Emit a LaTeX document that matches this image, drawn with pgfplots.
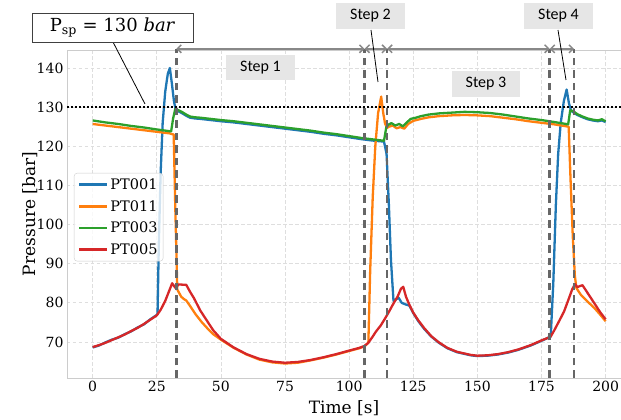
\documentclass[border=0pt]{standalone}
\usepackage{fontspec}
\setmainfont{DejaVu Serif}
\newfontfamily\stepfont{Carlito}
\usepackage{pgfplots}
\usepackage{pgfplotstable}
\pgfplotsset{compat=1.18}
\usetikzlibrary{arrows.meta}
\definecolor{tabblue}{HTML}{1F77B4}
\definecolor{taborange}{HTML}{FF7F0E}
\definecolor{tabgreen}{HTML}{2CA02C}
\definecolor{tabred}{HTML}{D62728}
\definecolor{stepgray}{HTML}{E6E6E6}
\definecolor{dashgray}{HTML}{666666}
\definecolor{arrgray}{HTML}{888888}

\pgfplotstableread{
t v
0 68.7
2.5 69.2
5 69.8
7.5 70.5
10 71.2
12.5 71.9
15 72.8
17.5 73.6
20 74.6
22.5 75.7
25 76.8
26.5 78.2
28.3 80.5
29.5 82.5
31 85.0
32.3 83.8
33.5 84.7
36.5 84.6
38 82.8
39.5 81.2
42 78.0
44.7 75.3
47 73.0
50 70.8
55 68.6
60 66.9
65 65.7
70 65.0
75 64.7
80 64.9
85 65.4
90 66.1
95 66.9
100 67.8
104 68.5
106 69.0
107.5 69.8
109 71.2
110.5 72.7
112.3 74.2
114 76.0
115.6 77.8
117 79.5
118.9 81.6
120.2 83.6
121.1 84.1
122.2 81.5
123.5 79.5
125 77.5
127 75.5
129.2 73.6
132 71.5
135 69.9
138.3 68.5
142 67.5
147.4 66.7
150 66.5
154 66.6
158 66.9
162 67.4
166 68.1
170.8 69.2
175 70.4
178.5 71.3
180 73.0
182 75.5
183.8 77.8
185.5 80.8
187 83.5
188.1 84.8
189 84.0
190 84.3
191 84.5
192.5 83.0
194.2 81.3
196 79.5
198 77.5
200 75.8
}\redtab

\pgfplotstableread{
t v
0 125.7
5 125.3
10 124.9
15 124.5
20 124.1
25 123.7
30 123.3
31.6 123.0
32.2 105
33 83.4
34.5 81.6
35.5 81.0
36.5 80.6
38 79.2
40 77.2
42.5 75.1
45 73.3
47 72.0
50 70.6
55 68.5
60 66.8
65 65.5
70 64.8
75 64.5
80 64.7
85 65.3
90 66.0
95 66.8
100 67.7
104 68.4
106 68.9
107.5 69.8
108.2 88
109.2 107
110.2 120
111.3 128.5
112.5 132.7
113.3 128.5
114 125.8
114.8 124.7
115.5 125.0
117 125.3
118.5 124.6
120 124.9
121.5 124.5
123 125.7
125 126.5
128 127.0
131 127.4
135 127.7
140 127.9
145 128.0
150 127.9
155 127.7
160 127.3
165 126.9
170 126.4
175 126.0
180 125.6
185.6 125.0
186.3 112
187.2 97
188 87
188.6 83.8
190.4 82.0
192.5 80.6
195.6 78.7
198 76.9
200 75.3
}\orangetab

\pgfplotstableread{
t v
0 126.6
5 126.1
10 125.7
15 125.2
20 124.8
25 124.3
30.6 123.8
31.4 127.2
32.2 129.5
33.5 129.2
35 128.7
36.5 128.1
38 127.6
40 127.4
42 127.3
46 127.0
50 126.7
55 126.4
60 126.0
65 125.6
70 125.2
75 124.8
80 124.4
85 124.0
90 123.5
95 123.1
100 122.6
105 122.1
110 121.7
113.6 121.4
114.5 124.9
115.5 125.6
116.5 125.9
118 125.3
119.5 125.7
121 125.1
122.5 126.1
124 127.0
126 127.3
128 127.7
131 128.1
135 128.4
140 128.6
145 128.8
150 128.7
155 128.5
160 128.1
165 127.6
170 127.1
175 126.7
180 126.2
185.4 125.6
186.2 129.2
187.5 128.9
189 128.2
191 127.6
193 127.1
195 126.8
197 126.6
198.5 126.9
200 126.4
}\greentab

\pgfplotstableread{
t v
0 68.6
2.5 69.1
5 69.9
7.5 70.6
10 71.1
12.5 72.0
15 72.7
17.5 73.7
20 74.5
22.5 75.8
25 76.9
25.3 77.2
25.8 95
26.5 113
27.3 126
28.3 134
29.3 138.5
30.1 140
30.9 136
31.7 131.5
32.4 129.3
33.5 128.9
35 128.4
36.5 127.8
38 127.3
40 127.1
42 127.0
46 126.7
50 126.4
55 126.1
60 125.7
65 125.3
70 124.9
75 124.5
80 124.1
85 123.7
90 123.2
95 122.8
100 122.3
105 121.8
110 121.4
113.6 121.2
114.6 118
115.5 105
116.3 91
117.3 80.5
118.3 80.9
119.3 81.3
120.5 80.0
122 79.6
123.5 79.3
125 77.4
127 75.3
129.2 73.4
132 71.4
135 69.8
138.3 68.4
142 67.4
147.4 66.6
150 66.4
154 66.5
158 66.8
162 67.3
166 68.0
170.8 69.1
175 70.3
178.6 71.4
179.6 85
180.6 105
181.5 118
182.5 126
183.7 131.5
184.8 134.5
185.7 131
186.5 129.2
187.5 128.6
189 128.0
191 127.4
193 126.9
195 126.6
197 126.4
198.5 126.6
200 126.2
}\bluetab

\begin{document}
\begin{tikzpicture}
\begin{axis}[
  scale only axis,
  width=554pt, height=328pt,
  at={(0pt,0pt)}, anchor=south west,
  xmin=-10, xmax=206,
  ymin=60.8, ymax=144.6,
  xtick={0,25,50,75,100,125,150,175,200},
  ytick={70,80,90,100,110,120,130,140},
  major tick length=0pt,
  tick label style={font=\fontsize{14}{16}\selectfont},
  /pgf/number format/assume math mode=true,
  grid=major,
  major grid style={draw=black!13, dash pattern=on 3.5pt off 2.5pt, line width=0.7pt},
  axis line style={draw=black!20, line width=0.9pt},
  xlabel={Time [s]},
  ylabel={Pressure [bar]},
  every axis x label/.style={at={(axis description cs:0.5,0)}, yshift=-30pt, anchor=center, font=\fontsize{17}{19}\selectfont},
  every axis y label/.style={at={(axis description cs:0,0.5)}, xshift=-37pt, rotate=90, anchor=center, font=\fontsize{17}{19}\selectfont},
  clip mode=individual,
  legend cell align=left,
  legend style={at={(axis description cs:0.0126,0.625)}, anchor=north west,
    font=\fontsize{14.5}{16}\selectfont, draw=black!20, rounded corners=3pt,
    fill=white, fill opacity=0.8, text opacity=1, inner sep=3.5pt,
    row sep=5.3pt},
  legend image code/.code={\draw[#1, line width=2.8pt] (0pt,0pt) -- (28pt,0pt);},
]
\addplot[tabblue, line width=2.3pt, line join=round] table[x=t,y=v]{\bluetab};
\addlegendentry{PT001}
\addplot[taborange, line width=2.3pt, line join=round] table[x=t,y=v]{\orangetab};
\addlegendentry{PT011}
\addplot[tabgreen, line width=2.3pt, line join=round] table[x=t,y=v]{\greentab};
\addlegendentry{PT003}
\addplot[tabred, line width=2.3pt, line join=round] table[x=t,y=v]{\redtab};
\addlegendentry{PT005}
% set point
\draw[black, line width=1.8pt, dash pattern=on 1.8pt off 2.2pt] (axis cs:-10,130) -- (axis cs:206,130);
% dashed step boundaries
\draw[dashgray, line width=2.6pt, dash pattern=on 7.5pt off 5pt] (axis cs:32.6,60.8) -- (axis cs:32.6,144.9);
\draw[dashgray, line width=2.6pt, dash pattern=on 7.5pt off 5pt] (axis cs:106,60.8) -- (axis cs:106,144.9);
\draw[dashgray, line width=2.6pt, dash pattern=on 7.5pt off 5pt] (axis cs:114.8,60.8) -- (axis cs:114.8,144.9);
\draw[dashgray, line width=2.6pt, dash pattern=on 7.5pt off 5pt] (axis cs:178.2,60.8) -- (axis cs:178.2,144.9);
\draw[dashgray, line width=2.6pt, dash pattern=on 7.5pt off 5pt] (axis cs:187.7,60.8) -- (axis cs:187.7,144.9);
% arrows
\draw[arrgray, line width=1.5pt, {Straight Barb[length=4pt,width=8pt]}-{Straight Barb[length=4pt,width=8pt]}] (axis cs:32.6,144.9) -- (axis cs:106,144.9);
\draw[arrgray, line width=1.5pt, {Straight Barb[length=4pt,width=8pt]}-{Straight Barb[length=4pt,width=8pt]}] (axis cs:106,144.9) -- (axis cs:114.8,144.9);
\draw[arrgray, line width=1.5pt, {Straight Barb[length=4pt,width=8pt]}-{Straight Barb[length=4pt,width=8pt]}] (axis cs:114.8,144.9) -- (axis cs:178.2,144.9);
\draw[arrgray, line width=1.5pt, {Straight Barb[length=4pt,width=8pt]}-{Straight Barb[length=4pt,width=8pt]}] (axis cs:178.2,144.9) -- (axis cs:187.7,144.9);
\end{axis}
% annotations (pt coordinates relative to axis origin)
\draw[black, line width=0.8pt] (46pt,336pt) -- (78pt,274pt);
\draw[black, line width=0.8pt] (304pt,348pt) -- (311pt,296pt);
\draw[black, line width=0.8pt] (491pt,348pt) -- (499pt,298pt);
\node[draw=black!75, line width=0.8pt, fill=white, minimum width=161pt, minimum height=29pt, inner sep=0pt, font=\fontsize{18}{20}\selectfont] at (45.5pt,350.5pt) {P\textsubscript{sp} = 130 \textit{bar}};
\node[fill=stepgray, minimum width=69pt, minimum height=25pt, inner sep=0pt, font=\stepfont\fontsize{16}{18}\selectfont] at (193.5pt,310.5pt) {Step 1};
\node[fill=stepgray, minimum width=69pt, minimum height=26pt, inner sep=0pt, font=\stepfont\fontsize{16}{18}\selectfont] at (303.5pt,362pt) {Step 2};
\node[fill=stepgray, minimum width=68pt, minimum height=26pt, inner sep=0pt, font=\stepfont\fontsize{16}{18}\selectfont] at (419pt,294pt) {Step 3};
\node[fill=stepgray, minimum width=69pt, minimum height=26pt, inner sep=0pt, font=\stepfont\fontsize{16}{18}\selectfont] at (491.5pt,362pt) {Step 4};
\pgfresetboundingbox
\path (-67pt,-42pt) rectangle (554pt,378pt);
\end{tikzpicture}
\end{document}
